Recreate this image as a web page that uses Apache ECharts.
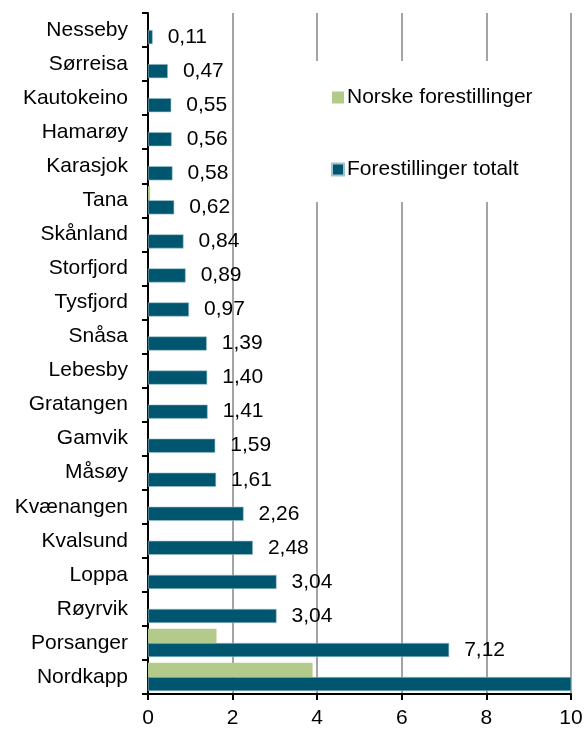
<!DOCTYPE html>
<html>
<head>
<meta charset="utf-8">
<script src="https://cdn.jsdelivr.net/npm/echarts@6/dist/echarts.min.js"></script>
<style>
  html, body { margin: 0; padding: 0; background: #fff; }
  #chart { width: 587px; height: 729px; }
</style>
</head>
<body>
<div id="chart"></div>
<script>
// kategorier, ovenfra og ned
var kommuner = ['Nesseby', 'Sørreisa', 'Kautokeino', 'Hamarøy', 'Karasjok', 'Tana', 'Skånland',
  'Storfjord', 'Tysfjord', 'Snåsa', 'Lebesby', 'Gratangen', 'Gamvik', 'Måsøy', 'Kvænangen',
  'Kvalsund', 'Loppa', 'Røyrvik', 'Porsanger', 'Nordkapp'];
// norske forestillinger (bare noen få har verdi)
var norske = [null, null, null, null, null, 0.05, null, null, null, null, null, null, null,
  null, null, null, null, null, 1.62, 3.89];
// forestillinger totalt (Nordkapp går forbi aksen, anslått)
var totalt = [0.11, 0.47, 0.55, 0.56, 0.58, 0.62, 0.84, 0.89, 0.97, 1.39, 1.40, 1.41, 1.59,
  1.61, 2.26, 2.48, 3.04, 3.04, 7.12, 11.6];
var xMax = 10;

var chart = echarts.init(document.getElementById('chart'));
var font = 'Liberation Sans, Arial, sans-serif';

chart.setOption({
  animation: false,
  textStyle: { fontFamily: font },
  grid: { left: 148, right: 16, top: 13, bottom: 35, outerBoundsMode: 'none' },
  legend: {
    orient: 'vertical',
    left: 305,
    top: 61,
    padding: [26, 24, 22, 26],
    itemGap: 51,
    itemWidth: 12,
    itemHeight: 12,
    backgroundColor: '#fff',
    icon: 'rect',
    textStyle: { fontSize: 21, color: '#000', fontFamily: font, padding: [0, 0, 0, -2] },
    data: ['Norske forestillinger', 'Forestillinger totalt']
  },
  xAxis: {
    type: 'value',
    min: 0,
    max: xMax,
    interval: 2,
    axisLine: { show: true, lineStyle: { color: '#000', width: 2 } },
    axisTick: { show: true, length: 6, lineStyle: { color: '#000', width: 2 } },
    axisLabel: { fontSize: 21, color: '#000', margin: 14, fontFamily: font },
    splitLine: { show: true, lineStyle: { color: '#868686', width: 1.5 } }
  },
  yAxis: {
    type: 'category',
    inverse: true,
    data: kommuner,
    axisLine: { show: true, lineStyle: { color: '#000', width: 2 } },
    axisTick: { show: true, length: 6, lineStyle: { color: '#000', width: 2 } },
    axisLabel: { fontSize: 21, color: '#000', margin: 20, fontFamily: font },
    splitLine: { show: false }
  },
  series: [{
    name: 'Norske forestillinger',
    type: 'bar',
    data: norske,
    barGap: '0%',
    barCategoryGap: '17%',
    itemStyle: { color: '#b3ca8b' }
  }, {
    name: 'Forestillinger totalt',
    type: 'bar',
    data: totalt,
    barGap: '0%',
    barCategoryGap: '17%',
    itemStyle: { color: '#00566f', borderColor: '#9fc3cf', borderWidth: 0.6 },
    label: {
      show: true,
      position: 'right',
      distance: 15,
      fontSize: 21,
      color: '#000',
      fontFamily: font,
      formatter: function (p) {
        if (p.value > xMax) return '';
        return p.value.toFixed(2).replace('.', ',');
      }
    }
  }]
});
</script>
</body>
</html>
